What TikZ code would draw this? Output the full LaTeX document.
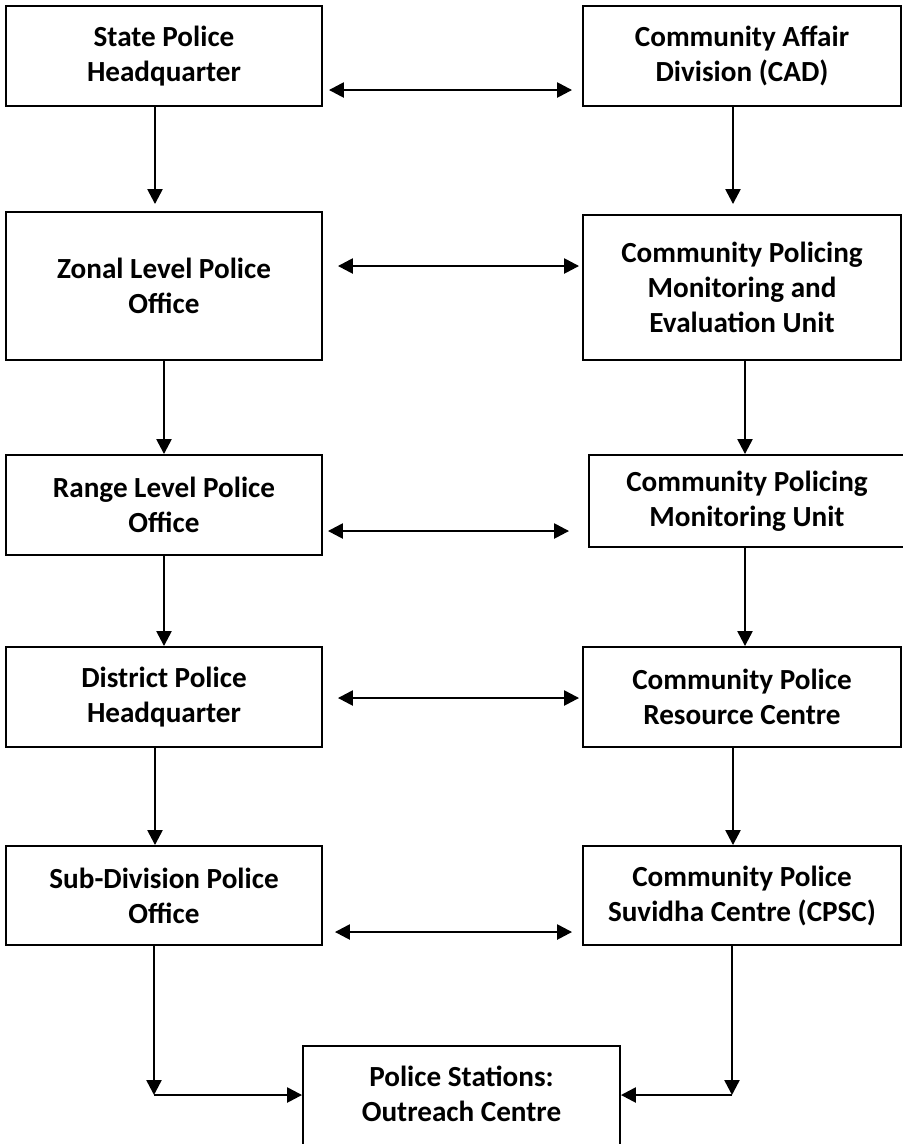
\documentclass[tikz,border=0pt]{standalone}
\usepackage{fontspec}
\setmainfont{Carlito}
\usetikzlibrary{arrows.meta,positioning,calc}

\begin{document}
\begin{tikzpicture}[x=0.02cm,y=-0.02cm,>={Triangle[length=0.3cm,width=0.3cm]},
  unit/.style={draw,line width=1.1pt,inner sep=0pt,minimum width=6.32cm,minimum height=2cm,
    align=center,font=\fontsize{16.6}{19.9}\selectfont\bfseries},
  link/.style={line width=1.4pt}]
  \useasboundingbox (0,0) rectangle (903,1144);

  % Police side
  \node[unit] (SPH) at (164,56) {State Police\\Headquarter};
  \node[unit,minimum height=2.96cm] (ZLO) at (164,286) {Zonal Level Police\\Office};
  \node[unit] (RLO) at (164,505) {Range Level Police\\Office};
  \node[unit] (DPH) at (164,697) {District Police\\Headquarter};
  \node[unit,minimum height=1.98cm] (SDO) at (164,895.5) {Sub-Division Police\\Office};

  % Community policing side
  \node[unit,minimum width=6.36cm] (CAD) at (742,56) {Community Affair\\Division (CAD)};
  \node[unit,minimum width=6.36cm,minimum height=2.9cm] (CPMEU) at (742,287.5)
    {Community Policing\\Monitoring and\\Evaluation Unit};
  \node[unit,minimum height=1.84cm] (CPMU) at (747,501) {Community Policing\\Monitoring Unit};
  \node[unit,minimum width=6.36cm] (CPRC) at (742,697) {Community Police\\Resource Centre};
  \node[unit,minimum width=6.36cm,minimum height=1.98cm] (CPSC) at (742,895.5)
    {Community Police\\Suvidha Centre (CPSC)};

  % Police stations (runs off the page)
  \node[unit,minimum width=6.34cm,minimum height=2.7cm,anchor=north] (PS) at (461.5,1045) {};
  \node[font=\fontsize{16.6}{19.9}\selectfont\bfseries,align=center] (PSlabel) at (461.5,1093.5)
    {Police Stations:\\Outreach Centre};

  % Two-way links
  \draw[link,<->,shorten <=0.12cm,shorten >=0.2cm] (SPH.east |- 0,90) -- (CAD.west |- 0,90);
  \draw[link,<->,shorten <=0.3cm,shorten >=0.06cm] (ZLO.east |- 0,266) -- (CPMEU.west |- 0,266);
  \draw[link,<->,shorten <=0.1cm,shorten >=0.38cm] (RLO.east |- 0,531) -- (CPMU.west |- 0,531);
  \draw[link,<->,shorten <=0.3cm,shorten >=0.06cm] (DPH.east |- 0,698) -- (CPRC.west |- 0,698);
  \draw[link,<->,shorten <=0.24cm,shorten >=0.2cm] (SDO.east |- 0,932) -- (CPSC.west |- 0,932);

  % Down the police side
  \draw[link,->,shorten >=0.14cm] (SPH.south -| 155,0) -- (ZLO.north -| 155,0);
  \draw[link,->] (ZLO.south) -- (RLO.north);
  \draw[link,->] (RLO.south) -- (DPH.north);
  \draw[link,->] (DPH.south -| 155,0) -- (SDO.north -| 155,0);

  % Down the community side
  \draw[link,->,shorten >=0.2cm] (CAD.south -| 733,0) -- (CPMEU.north -| 733,0);
  \draw[link,->] (CPMEU.south -| 745,0) -- (CPMU.north -| 745,0);
  \draw[link,->] (CPMU.south -| 745,0) -- (CPRC.north -| 745,0);
  \draw[link,->] (CPRC.south -| 733,0) -- (CPSC.north -| 733,0);

  % Into the police stations
  \coordinate (leftturn) at (154,1095);
  \coordinate (rightturn) at (732,1095);
  \draw[link,->] (SDO.south -| leftturn) -- (leftturn);
  \draw[link,->] (leftturn) -- (PS.west |- leftturn);
  \draw[link,->] (CPSC.south -| rightturn) -- (rightturn);
  \draw[link,->] (rightturn) -- (PS.east |- rightturn);
\end{tikzpicture}
\end{document}
